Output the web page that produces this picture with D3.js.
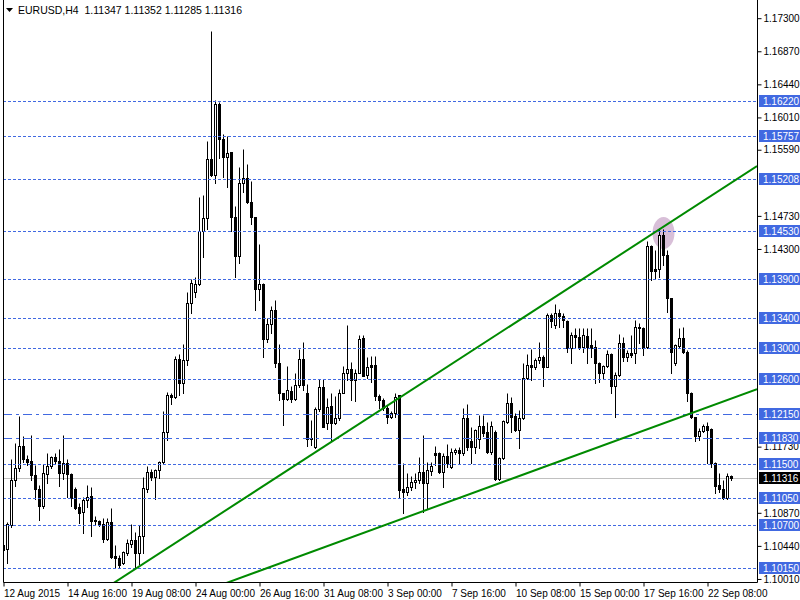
<!DOCTYPE html>
<html>
<head>
<meta charset="utf-8">
<script src="https://cdn.jsdelivr.net/npm/d3@7"></script>
<style>
body { margin: 0; background: #fff; }
svg { display: block; }
text { font-family: "Liberation Sans", Arial, sans-serif; font-size: 10px; }
</style>
</head>
<body>
<div id="root"></div>
<script>
const symbol = "EURUSD,H4";
const lastQuote = ["1.11347", "1.11352", "1.11285", "1.11316"];

// H4 bars, 12 Aug 2015 00:00 onwards (trading bars only)
const open = [
  1.10445,1.10393,1.10705,1.11290,1.11446,1.11732,1.11563,1.11537,1.11355,1.11173,
  1.10952,1.11368,1.11472,1.11589,1.11537,1.11381,1.11511,1.11368,1.11173,1.10939,
  1.10874,1.11030,1.11082,1.10770,1.10757,1.10718,1.10523,1.10744,1.10302,1.10276,
  1.10211,1.10341,1.10458,1.10510,1.10341,1.10562,1.11173,1.11394,1.11329,1.11420,
  1.11524,1.11914,1.12395,1.12369,1.12863,1.12551,1.12850,1.13591,1.13734,1.13838,
  1.14527,1.14696,1.15463,1.15255,1.16178,1.15723,1.15489,1.15554,1.14709,1.14202,
  1.15151,1.15216,1.14904,1.14709,1.13773,1.13838,1.13123,1.13318,1.13500,1.12811,
  1.12421,1.12343,1.12447,1.12343,1.12525,1.12863,1.12421,1.11823,1.11719,1.12213,
  1.12499,1.12031,1.12252,1.12031,1.12096,1.12421,1.12681,1.12733,1.12590,1.12681,
  1.13136,1.12655,1.12785,1.12785,1.12382,1.12330,1.12226,1.12109,1.12161,1.12395,
  1.11173,1.11134,1.11199,1.11264,1.11290,1.11394,1.11251,1.11407,1.11641,1.11641,
  1.11394,1.11602,1.11459,1.11654,1.11680,1.11641,1.12096,1.11797,1.11719,1.11823,
  1.11992,1.11914,1.11654,1.11914,1.11303,1.11576,1.12044,1.12291,1.12122,1.11940,
  1.12096,1.12616,1.12785,1.12759,1.12850,1.12889,1.12759,1.13435,1.13305,1.13461,
  1.13422,1.13357,1.13006,1.13175,1.13149,1.13019,1.13162,1.13045,1.13019,1.12811,
  1.12681,1.12772,1.12928,1.12512,1.12655,1.13071,1.12889,1.12941,1.12941,1.13279,
  1.13266,1.13019,1.14332,1.14033,1.14033,1.14475,1.14215,1.13656,1.12811,1.13032,
  1.13136,1.12954,1.12421,1.12109,1.11862,1.11927,1.11992,1.11953,1.11511,1.11225,
  1.11173,1.11056,1.11347
];
const high = [
  1.10510,1.10744,1.11563,1.11771,1.12122,1.11862,1.11615,1.11875,1.11485,1.11225,
  1.11498,1.11641,1.11602,1.11641,1.11693,1.11875,1.11563,1.11381,1.11199,1.10991,
  1.11069,1.11225,1.11199,1.10822,1.10770,1.10796,1.10796,1.10926,1.10445,1.10315,
  1.10367,1.10523,1.10718,1.10614,1.10705,1.11329,1.11472,1.11433,1.11433,1.11537,
  1.12187,1.12434,1.12421,1.12902,1.12928,1.13058,1.13734,1.13903,1.13929,1.14969,
  1.14995,1.15697,1.17127,1.16230,1.16204,1.15788,1.15762,1.15554,1.14852,1.15359,
  1.15593,1.15398,1.15177,1.14709,1.14358,1.13851,1.13396,1.13552,1.13630,1.13058,
  1.12421,1.12772,1.12512,1.12681,1.12993,1.13084,1.12538,1.12070,1.12239,1.12603,
  1.12603,1.12356,1.12421,1.12382,1.12473,1.12772,1.13305,1.12824,1.12733,1.13175,
  1.13175,1.12889,1.12902,1.12902,1.12408,1.12356,1.12265,1.12187,1.12421,1.12395,
  1.11511,1.11381,1.11342,1.11381,1.11589,1.11875,1.11524,1.11524,1.11732,1.11654,
  1.11641,1.11758,1.11706,1.11706,1.11719,1.12226,1.12278,1.11979,1.11953,1.12135,
  1.12135,1.12044,1.12057,1.11940,1.11589,1.12070,1.12421,1.12369,1.12161,1.12200,
  1.12811,1.12928,1.12993,1.12876,1.13084,1.12915,1.13461,1.13461,1.13578,1.13513,
  1.13461,1.13370,1.13214,1.13266,1.13266,1.13266,1.13266,1.13266,1.13110,1.12824,
  1.12785,1.12980,1.12941,1.12694,1.13188,1.13149,1.12980,1.13175,1.13370,1.13331,
  1.13279,1.14397,1.14345,1.14280,1.14566,1.14553,1.14280,1.13656,1.13058,1.13266,
  1.13279,1.12980,1.12434,1.12109,1.11966,1.12018,1.12044,1.11966,1.11524,1.11381,
  1.11290,1.11381,1.11352
];
const low = [
  1.10315,1.10211,1.10679,1.11212,1.11407,1.11524,1.11485,1.11290,1.11043,1.10770,
  1.10926,1.11251,1.11446,1.11498,1.11212,1.11303,1.11069,1.10952,1.10913,1.10731,
  1.10601,1.10939,1.10562,1.10705,1.10692,1.10484,1.10510,1.10276,1.10159,1.10146,
  1.10198,1.10315,1.10419,1.10146,1.10198,1.10341,1.11134,1.11290,1.11043,1.11316,
  1.11511,1.11810,1.12278,1.12356,1.12395,1.12421,1.12785,1.13461,1.13669,1.13825,
  1.14189,1.14553,1.15242,1.15151,1.15476,1.15229,1.15099,1.14527,1.13929,1.14111,
  1.15034,1.14891,1.14618,1.13500,1.13630,1.12889,1.13084,1.13201,1.12759,1.12330,
  1.12005,1.12330,1.12304,1.12330,1.12499,1.12460,1.11732,1.11745,1.11706,1.12187,
  1.11979,1.11953,1.11810,1.12018,1.12070,1.12421,1.12590,1.12330,1.12317,1.12681,
  1.12642,1.12616,1.12564,1.12330,1.12226,1.12200,1.12031,1.12096,1.12109,1.11069,
  1.10861,1.11095,1.11160,1.11186,1.11251,1.10874,1.10913,1.11355,1.11485,1.11381,
  1.11199,1.11459,1.11446,1.11628,1.11511,1.11615,1.11680,1.11511,1.11641,1.11706,
  1.11862,1.11641,1.11628,1.11290,1.11290,1.11563,1.12031,1.11914,1.11927,1.11706,
  1.12083,1.12603,1.12590,1.12733,1.12811,1.12512,1.12759,1.13279,1.13266,1.13279,
  1.13279,1.12954,1.12811,1.13019,1.12993,1.12954,1.12811,1.12889,1.12551,1.12564,
  1.12616,1.12759,1.12421,1.12109,1.12642,1.12837,1.12837,1.12889,1.12811,1.13071,
  1.12915,1.13006,1.13890,1.13903,1.13929,1.14085,1.13474,1.12681,1.12785,1.13019,
  1.12941,1.12317,1.12096,1.11797,1.11810,1.11914,1.11511,1.11459,1.11121,1.11134,
  1.11043,1.11043,1.11285
];
const close = [
  1.10380,1.10718,1.11290,1.11446,1.11732,1.11563,1.11524,1.11355,1.11173,1.10952,
  1.11381,1.11472,1.11589,1.11537,1.11381,1.11511,1.11368,1.11056,1.10926,1.10861,
  1.11030,1.11069,1.10757,1.10757,1.10705,1.10523,1.10744,1.10289,1.10276,1.10185,
  1.10354,1.10471,1.10510,1.10341,1.10562,1.11186,1.11394,1.11329,1.11420,1.11524,
  1.11914,1.12395,1.12369,1.12863,1.12551,1.12850,1.13591,1.13851,1.13838,1.14527,
  1.14696,1.15463,1.15255,1.16178,1.15723,1.15489,1.15541,1.14709,1.14202,1.15151,
  1.15216,1.14904,1.14709,1.13773,1.13838,1.13123,1.13318,1.13500,1.12811,1.12421,
  1.12343,1.12460,1.12343,1.12525,1.12863,1.12525,1.11823,1.11836,1.12213,1.12499,
  1.11979,1.12239,1.12031,1.12096,1.12421,1.12681,1.12733,1.12590,1.12681,1.13123,
  1.12642,1.12759,1.12759,1.12382,1.12330,1.12226,1.12109,1.12161,1.12369,1.11160,
  1.11134,1.11199,1.11264,1.11290,1.11394,1.11251,1.11420,1.11472,1.11615,1.11394,
  1.11602,1.11511,1.11654,1.11680,1.11641,1.12096,1.11719,1.11719,1.11940,1.11992,
  1.11901,1.11654,1.11992,1.11303,1.11576,1.12057,1.12291,1.12109,1.11940,1.12096,
  1.12616,1.12785,1.12759,1.12850,1.12889,1.12759,1.13435,1.13357,1.13461,1.13422,
  1.13370,1.13006,1.13175,1.13149,1.13019,1.13175,1.13019,1.13006,1.12811,1.12681,
  1.12772,1.12928,1.12512,1.12655,1.13071,1.12889,1.12941,1.12915,1.13279,1.13266,
  1.13006,1.14332,1.14007,1.14007,1.14475,1.14215,1.13656,1.12954,1.13045,1.13136,
  1.12954,1.12421,1.12109,1.11862,1.11927,1.11992,1.11940,1.11511,1.11212,1.11173,
  1.11056,1.11342,1.11316
];

// time axis: one label every 16 bars
const xTickBars = [0, 16, 32, 48, 64, 80, 96, 112, 128, 144, 160, 176];
const xTickLabels = ["12 Aug 2015", "14 Aug 16:00", "19 Aug 08:00", "24 Aug 00:00", "26 Aug 16:00", "31 Aug 08:00",
  "3 Sep 00:00", "7 Sep 16:00", "10 Sep 08:00", "15 Sep 00:00", "17 Sep 16:00", "22 Sep 08:00"];

// scale labels that are not covered by a level tag
const priceTicks = [1.17300, 1.16870, 1.16440, 1.16010, 1.15590, 1.14730, 1.14300,
  1.11730, 1.10870, 1.10440, 1.10010];

const dashLevels = [1.16220, 1.15757, 1.15208, 1.14530, 1.13900, 1.13400, 1.13000, 1.12600,
  1.11500, 1.11050, 1.10700, 1.10150];
const dashDotLevels = [1.12150, 1.11830];
const currentPrice = 1.11316;

// trend lines as two anchor points [bar, price], extended both ways
const trendUpper = [[70, 1.11382], [165, 1.14583]];
const trendLower = [[100, 1.10792], [175, 1.12216]];
const touchMark = [165, 1.14501];

const width = 800, height = 600;
const plot = {left: 3, right: 757, top: 0, bottom: 582};
const blue = "#4169e1", green = "#008a00";

const svg = d3.select("#root").append("svg")
    .attr("width", width)
    .attr("height", height);

svg.append("rect").attr("width", width).attr("height", height).attr("fill", "#fff");

const x = d3.scaleLinear().domain([0, 100]).range([3.5, 403.5]);
const y = d3.scaleLinear().domain([1.17530, 1.10010]).range([0, 7520 / 13]);
const py = (p) => Math.round(y(p)) + 0.5;

svg.append("clipPath").attr("id", "plotclip")
    .append("rect")
    .attr("x", plot.left).attr("y", plot.top)
    .attr("width", plot.right - plot.left).attr("height", plot.bottom - plot.top);

const chart = svg.append("g").attr("clip-path", "url(#plotclip)");

// highlight around the touch of the upper line
chart.append("ellipse")
    .attr("cx", x(touchMark[0]))
    .attr("cy", y(touchMark[1]))
    .attr("rx", 11)
    .attr("ry", 16)
    .attr("fill", "#d8bfd8");

chart.append("line")
    .attr("x1", plot.left).attr("x2", plot.right)
    .attr("y1", py(currentPrice)).attr("y2", py(currentPrice))
    .attr("stroke", "#c0c0c0");

const bars = d3.range(open.length).map((i) => ({i: i, o: open[i], h: high[i], l: low[i], c: close[i]}));

const candle = chart.selectAll(".candle")
    .data(bars)
    .enter()
    .append("g")
    .attr("class", "candle");

candle.append("line")
    .attr("x1", (d) => x(d.i)).attr("x2", (d) => x(d.i))
    .attr("y1", (d) => py(d.h)).attr("y2", (d) => py(d.l) + 0.5)
    .attr("stroke", "#000");

candle.append("rect")
    .attr("x", (d) => x(d.i) - 1)
    .attr("y", (d) => py(Math.max(d.o, d.c)))
    .attr("width", 2)
    .attr("height", (d) => Math.max(0, py(Math.min(d.o, d.c)) - py(Math.max(d.o, d.c))))
    .attr("fill", (d) => d.c >= d.o ? "#fff" : "#000")
    .attr("stroke", "#000");

// horizontal levels
chart.selectAll(".lvl")
    .data(dashLevels)
    .enter()
    .append("line")
    .attr("x1", plot.left).attr("x2", plot.right)
    .attr("y1", (d) => py(d)).attr("y2", (d) => py(d))
    .attr("stroke", blue)
    .attr("stroke-dasharray", "3,2");

chart.selectAll(".lvl2")
    .data(dashDotLevels)
    .enter()
    .append("line")
    .attr("x1", plot.left).attr("x2", plot.right)
    .attr("y1", (d) => py(d)).attr("y2", (d) => py(d))
    .attr("stroke", blue)
    .attr("stroke-dasharray", "9,4,3,4");

// trend lines
const lineAt = (pts, b) => pts[0][1] + (pts[1][1] - pts[0][1]) * (b - pts[0][0]) / (pts[1][0] - pts[0][0]);
[trendUpper, trendLower].forEach((pts) => {
    const b0 = x.invert(plot.left), b1 = x.invert(plot.right);
    chart.append("line")
        .attr("x1", x(b0)).attr("y1", y(lineAt(pts, b0)))
        .attr("x2", x(b1)).attr("y2", y(lineAt(pts, b1)))
        .attr("stroke", green)
        .attr("stroke-width", 2);
});

// frame
svg.append("path")
    .attr("d", `M${plot.left + 0.5},${plot.top}V${plot.bottom + 0.5}H${plot.right + 0.5}V${plot.top}`)
    .attr("fill", "none")
    .attr("stroke", "#000");

// price axis
const yAxis = svg.append("g")
    .attr("transform", `translate(${plot.right + 0.5},0.5)`)
    .call(d3.axisRight(y).tickValues(priceTicks).tickSize(4).tickPadding(2).tickFormat(d3.format(".5f")));
yAxis.select(".domain").remove();
yAxis.selectAll("text").attr("fill", "#000").style("font-size", "10px").style("font-family", "Liberation Sans, Arial, sans-serif");

// time axis
const xAxis = svg.append("g")
    .attr("transform", `translate(0,${plot.bottom + 0.5})`)
    .call(d3.axisBottom(x).tickValues(xTickBars).tickSize(4).tickFormat((d, i) => xTickLabels[i]));
xAxis.select(".domain").remove();
xAxis.selectAll("text")
    .attr("text-anchor", "start")
    .attr("x", 0)
    .attr("y", 7)
    .attr("fill", "#000")
    .style("font-size", "10px")
    .style("font-family", "Liberation Sans, Arial, sans-serif");

// level price tags
const tags = svg.selectAll(".tag")
    .data(dashLevels.concat(dashDotLevels).map((v) => ({v: v, bg: blue})).concat([{v: currentPrice, bg: "#000"}]))
    .enter()
    .append("g")
    .attr("class", "tag");

tags.append("rect")
    .attr("x", plot.right + 2)
    .attr("y", (d) => Math.round(y(d.v)) - 6)
    .attr("width", width - plot.right - 2)
    .attr("height", 12)
    .attr("fill", (d) => d.bg);

tags.append("text")
    .attr("x", plot.right + 6)
    .attr("y", (d) => Math.round(y(d.v)) + 4)
    .attr("fill", "#fff")
    .text((d) => d.v.toFixed(5));

// header
svg.append("path").attr("d", "M6,8H13L9.5,12Z").attr("fill", "#000");
svg.append("text")
    .attr("x", 18).attr("y", 14)
    .attr("fill", "#000")
    .attr("xml:space", "preserve")
    .style("font-size", "10.5px")
    .text(`${symbol}  ${lastQuote.join(" ")}`);
</script>
</body>
</html>
